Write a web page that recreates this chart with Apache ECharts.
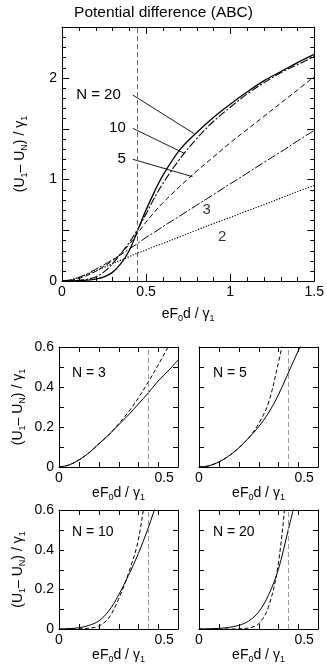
<!DOCTYPE html>
<html>
<head>
<meta charset="utf-8">
<script src="https://cdn.jsdelivr.net/npm/echarts@6/dist/echarts.min.js"></script>
<style>
  html, body { margin: 0; padding: 0; background: #fff; }
  #chart { width: 327px; height: 665px; }
</style>
</head>
<body>
<div id="chart"></div>
<script>
// field values eF0d / gamma1
const xs = [0, 0.05, 0.1, 0.15, 0.2, 0.25, 0.3, 0.35, 0.4, 0.45, 0.5, 0.55, 0.6, 0.7, 0.8, 0.9, 1.0, 1.1, 1.2, 1.3, 1.4, 1.5]
// (U1 - UN) / gamma1 for each N
const valN2 = [0, 0.012, 0.035, 0.067, 0.10, 0.135, 0.17, 0.205, 0.24, 0.275, 0.305, 0.34, 0.37, 0.435, 0.50, 0.565, 0.625, 0.69, 0.75, 0.815, 0.88, 0.94]
const valN3 = [0, 0.01, 0.035, 0.07, 0.115, 0.16, 0.21, 0.26, 0.315, 0.37, 0.43, 0.48, 0.535, 0.64, 0.745, 0.85, 0.956, 1.06, 1.167, 1.27, 1.378, 1.483]
const valN5 = [0, 0.006, 0.025, 0.055, 0.095, 0.145, 0.2, 0.27, 0.36, 0.47, 0.58, 0.68, 0.77, 0.93, 1.08, 1.22, 1.36, 1.49, 1.62, 1.75, 1.88, 2.01]
const valN10 = [0, 0.002, 0.006, 0.018, 0.04, 0.09, 0.17, 0.27, 0.38, 0.51, 0.66, 0.82, 0.96, 1.2, 1.4, 1.57, 1.71, 1.84, 1.95, 2.05, 2.13, 2.21]
const valN20 = [0, 0.001, 0.003, 0.008, 0.018, 0.04, 0.085, 0.17, 0.3, 0.5, 0.7, 0.88, 1.04, 1.29, 1.46, 1.61, 1.74, 1.86, 1.97, 2.06, 2.15, 2.23]

// approximate curves shown dashed in the small panels (x = xs[0..12])
const approxN3 = [0, 0.01, 0.035, 0.07, 0.115, 0.16, 0.215, 0.275, 0.345, 0.425, 0.51, 0.6, 0.69]
const approxN5 = [0, 0.006, 0.025, 0.055, 0.095, 0.145, 0.215, 0.32, 0.52, 0.75, 1.0]
const approxN10 = [0, 0, 0.001, 0.004, 0.014, 0.055, 0.15, 0.28, 0.45, 0.78, 1.1]
const approxN20 = [0, 0, 0, 0, 0.001, 0.005, 0.025, 0.11, 0.33, 0.8, 1.3]

const critX = 0.445

// leader lines of the top chart
const leaderText = ['N = 20', '10', '5']
const leaderFrom = [[0.421, 1.83], [0.421, 1.503], [0.421, 1.198]]
const leaderTo = [[0.786, 1.45], [0.727, 1.257], [0.776, 1.027]]
const plainText = ['3', '2']
const plainAt = [[0.86, 0.70], [0.953, 0.436]]

// tick marks (inside the frame)
const bigTicksX = [0.1, 0.2, 0.3, 0.4, 0.5, 0.6, 0.7, 0.8, 0.9, 1.0, 1.1, 1.2, 1.3, 1.4]
const bigTicksY = [0.1, 0.2, 0.3, 0.4, 0.5, 0.6, 0.7, 0.8, 0.9, 1.0, 1.1, 1.2, 1.3, 1.4, 1.5, 1.6, 1.7, 1.8, 1.9, 2.0, 2.1, 2.2, 2.3, 2.4]
const smallTicks = [0.1, 0.2, 0.3, 0.4, 0.5]

const FONT = 'Liberation Sans'
const pairs = (x, y) => y.map((v, i) => [x[i], v])

const chart = echarts.init(document.getElementById('chart'))

const grids = [
  { left: 62, top: 27, width: 254, height: 254 },
  { left: 59, top: 347, width: 119, height: 120 },
  { left: 199, top: 347, width: 119, height: 120 },
  { left: 59, top: 510, width: 119, height: 120 },
  { left: 199, top: 510, width: 119, height: 120 }
]

const nameRich = {
  a: { fontFamily: FONT, fontSize: 14, color: '#000' },
  s: { fontFamily: FONT, fontSize: 9, color: '#000', padding: [9, 0, 0, 0] }
}
const xName = '{a|eF}{s|0}{a|d / γ}{s|1}'
const yName = '{a|(U}{s|1}{a|– U}{s|N}{a|) / γ}{s|1}'

const xAxes = []
const yAxes = []
const frameLine = { show: true, onZero: false, lineStyle: { color: '#000', width: 1 } }

grids.forEach((g, i) => {
  const big = i === 0
  const xmax = big ? 1.5 : 0.6
  const ymax = big ? 2.5 : 0.6
  const step = big ? 0.5 : 0.1
  const xBase = { gridIndex: i, type: 'value', min: 0, max: xmax, interval: step, splitLine: { show: false }, axisTick: { show: false }, axisLine: frameLine }
  const yBase = { gridIndex: i, type: 'value', min: 0, max: ymax, interval: step, splitLine: { show: false }, axisTick: { show: false }, axisLine: frameLine }

  xAxes.push(Object.assign({}, xBase, {
    position: 'bottom',
    axisLabel: {
      fontFamily: FONT, fontSize: 14, color: '#000', margin: 4,
      formatter: v => {
        if (big) return String(v)
        if (Math.abs(v) < 1e-6) return '0'
        if (Math.abs(v - 0.5) < 1e-6) return '{r|0.5}'
        return ''
      },
      rich: { r: { fontFamily: FONT, fontSize: 14, color: '#000', padding: [0, 0, 0, 12] } }
    },
    name: xName, nameLocation: 'middle', nameGap: big ? 24 : 17,
    nameTextStyle: { rich: nameRich }
  }))
  xAxes.push(Object.assign({}, xBase, { position: 'top', axisLabel: { show: false } }))

  const leftCol = i === 0 || i === 1 || i === 3
  yAxes.push(Object.assign({}, yBase, {
    position: 'left',
    axisLabel: {
      show: leftCol, fontFamily: FONT, fontSize: 14, color: '#000', margin: 5,
      formatter: v => {
        if (big) return Math.abs(v - Math.round(v)) < 1e-6 ? String(v) : ''
        return Math.abs(v * 5 - Math.round(v * 5)) < 1e-6 ? String(+v.toFixed(1)) : ''
      }
    },
    name: leftCol ? yName : '', nameLocation: 'middle', nameGap: big ? 33 : 32,
    nameRotate: 90, nameTextStyle: { rich: nameRich }
  }))
  yAxes.push(Object.assign({}, yBase, { position: 'right', axisLabel: { show: false } }))
})

const curve = (gi, data, type, width) => ({
  type: 'line',
  xAxisIndex: gi * 2,
  yAxisIndex: gi * 2,
  data: data,
  showSymbol: false,
  smooth: 0.35,
  clip: true,
  lineStyle: { color: '#000', width: width || 1, type: type }
})

const vline = (gi, color) => ({
  type: 'line', xAxisIndex: gi * 2, yAxisIndex: gi * 2, data: [],
  markLine: {
    silent: true, symbol: 'none', label: { show: false },
    lineStyle: { color: color, width: 1, type: [5, 3] },
    data: [{ xAxis: critX }]
  }
})

// inward ticks on all four sides, placed through the grid's own scales
const ticks = (gi, dim, values, xmax, ymax, majorStep, majorLen, minorLen) => ({
  type: 'custom', xAxisIndex: gi * 2, yAxisIndex: gi * 2, silent: true, z: 10,
  data: values.map(v => dim === 'x' ? [v, 0] : [0, v]),
  renderItem: (params, api) => {
    const v = dim === 'x' ? api.value(0) : api.value(1)
    const r = v / majorStep
    const len = Math.abs(r - Math.round(r)) < 1e-6 ? majorLen : minorLen
    const st = { stroke: '#000', lineWidth: 1 }
    if (dim === 'x') {
      const a = api.coord([v, 0])
      const b = api.coord([v, ymax])
      const x = Math.round(a[0]) + 0.5
      return { type: 'group', children: [
        { type: 'line', shape: { x1: x, y1: a[1], x2: x, y2: a[1] - len }, style: st },
        { type: 'line', shape: { x1: x, y1: b[1], x2: x, y2: b[1] + len }, style: st }
      ] }
    }
    const a = api.coord([0, v])
    const b = api.coord([xmax, v])
    const y = Math.round(a[1]) + 0.5
    return { type: 'group', children: [
      { type: 'line', shape: { x1: a[0], y1: y, x2: a[0] + len, y2: y }, style: st },
      { type: 'line', shape: { x1: b[0], y1: y, x2: b[0] - len, y2: y }, style: st }
    ] }
  }
})

const series = [
  vline(0, '#666'),
  ticks(0, 'x', bigTicksX, 1.5, 2.5, 0.5, 7, 4),
  ticks(0, 'y', bigTicksY, 1.5, 2.5, 0.5, 7, 4),
  curve(0, pairs(xs, valN2), [1.2, 1.6], 1.2),
  curve(0, pairs(xs, valN3), [9, 2, 2, 2], 1),
  curve(0, pairs(xs, valN5), [5, 3], 1),
  curve(0, pairs(xs, valN10), [8, 2, 2, 2], 1.1),
  curve(0, pairs(xs, valN20), 'solid', 1.3)
]

leaderText.forEach((t, k) => {
  series.push({
    type: 'line', xAxisIndex: 0, yAxisIndex: 0,
    data: [
      { value: leaderFrom[k], label: { show: true, formatter: t, position: 'left', distance: k === 0 ? 12 : 7 } },
      { value: leaderTo[k] }
    ],
    showSymbol: true, symbol: 'circle', symbolSize: 0.1,
    itemStyle: { color: '#000' },
    lineStyle: { color: '#000', width: 0.9 },
    label: { show: false, fontFamily: FONT, fontSize: 15, color: '#000' }
  })
})
series.push({
  type: 'scatter', xAxisIndex: 0, yAxisIndex: 0, symbolSize: 0,
  data: plainAt.map((p, k) => ({ value: p, name: plainText[k] })),
  label: { show: true, position: 'inside', formatter: p => p.name, fontFamily: FONT, fontSize: 15, color: '#000' }
})

const small = xs.slice(0, 13)
const panels = [
  [valN3, approxN3], [valN5, approxN5], [valN10, approxN10], [valN20, approxN20]
]
panels.forEach((p, k) => {
  const gi = k + 1
  series.push(vline(gi, '#999'))
  series.push(ticks(gi, 'x', smallTicks, 0.6, 0.6, 0.1, 5, 5))
  series.push(ticks(gi, 'y', smallTicks, 0.6, 0.6, 0.1, 5, 5))
  series.push(curve(gi, pairs(small, p[1]), [4, 2.5], 1))
  series.push(curve(gi, pairs(small, p[0].slice(0, 13)), 'solid', 1))
})

const nLabels = ['N = 3', 'N = 5', 'N = 10', 'N = 20']
const nPos = [[72, 366], [213, 366], [72, 525], [213, 525]]

chart.setOption({
  animation: false,
  backgroundColor: '#fff',
  title: [
    { text: 'Potential difference (ABC)', left: 'center', top: 0,
      textStyle: { fontFamily: FONT, fontSize: 15.5, fontWeight: 'normal', color: '#000' } }
  ].concat(nLabels.map((t, k) => ({
    text: t, left: nPos[k][0], top: nPos[k][1], padding: 0,
    textStyle: { fontFamily: FONT, fontSize: 14, fontWeight: 'normal', color: '#000' }
  }))),
  grid: grids,
  xAxis: xAxes,
  yAxis: yAxes,
  series: series
})
</script>
</body>
</html>
